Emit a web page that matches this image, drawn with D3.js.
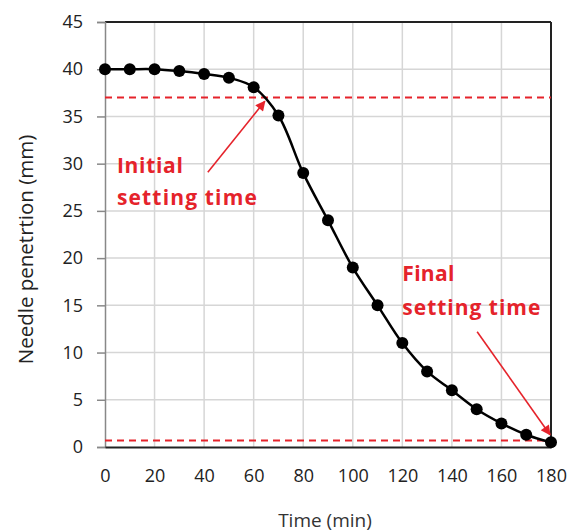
<!DOCTYPE html>
<html>
<head>
<meta charset="utf-8">
<script src="https://cdn.jsdelivr.net/npm/d3@7"></script>
<style>
  body { margin: 0; background: #fff; }
</style>
</head>
<body>
<div id="chart"></div>
<script>
// Time (min) and needle penetration (mm)
var times = [0, 10, 20, 30, 40, 50, 60, 70, 80, 90, 100, 110, 120, 130, 140, 150, 160, 170, 180];
var penetration = [40, 40, 40, 39.8, 39.5, 39.1, 38.1, 35.1, 29, 24, 19, 15, 11, 8, 6, 4, 2.5, 1.3, 0.5];

// Tick values
var xTicks = [0, 20, 40, 60, 80, 100, 120, 140, 160, 180];
var yTicks = [0, 5, 10, 15, 20, 25, 30, 35, 40, 45];

// Reference levels (initial / final setting)
var refLevels = [37, 0.7];

// Annotations: text lines (with their widths) and arrow ends in data units
var notes = [
    {lines: ["Initial", "setting time"], widths: [66, 140], tx: 4.8, ty: 29.0, gap: 32, from: [41.5, 29.1], to: [64.5, 36.6]},
    {lines: ["Final", "setting time"], widths: [52, 138], tx: 120, ty: 17.6, gap: 34, from: [150.2, 12.2], to: [179.6, 1.3]}
];

var width = 576, height = 532;
var margin = {top: 22, right: 25, bottom: 85, left: 105};
var w = width - margin.left - margin.right;
var h = height - margin.top - margin.bottom;

var red = "#e5232b";

var svg = d3.select("#chart")
    .append("svg")
    .attr("width", width)
    .attr("height", height)
    .style("font-family", "'Open Sans', sans-serif");

var defs = svg.append("defs");
defs.append("marker")
    .attr("id", "arrow")
    .attr("viewBox", "0 0 10 10")
    .attr("refX", 9)
    .attr("refY", 5)
    .attr("markerWidth", 12)
    .attr("markerHeight", 10)
    .attr("markerUnits", "userSpaceOnUse")
    .attr("orient", "auto")
    .append("path")
    .attr("d", "M0,0 L10,5 L0,10 z")
    .attr("fill", red);

var g = svg.append("g")
    .attr("transform", "translate(" + margin.left + "," + margin.top + ")");

var x = d3.scaleLinear().domain([0, 180]).range([0, w]);
var y = d3.scaleLinear().domain([0, 45]).range([h, 0]);

// Grid
g.append("g")
    .selectAll("line")
    .data(xTicks.slice(1, -1))
    .enter().append("line")
    .attr("x1", function(d) { return x(d); })
    .attr("x2", function(d) { return x(d); })
    .attr("y1", 0)
    .attr("y2", h)
    .attr("stroke", "#d6d6d6")
    .attr("stroke-width", 1.5);

g.append("g")
    .selectAll("line")
    .data(yTicks.slice(1, -1))
    .enter().append("line")
    .attr("x1", 0)
    .attr("x2", w)
    .attr("y1", function(d) { return y(d); })
    .attr("y2", function(d) { return y(d); })
    .attr("stroke", "#d6d6d6")
    .attr("stroke-width", 1.5);

// Frame: top and right dark
g.append("line").attr("x1", 0).attr("x2", w).attr("y1", 0).attr("y2", 0)
    .attr("stroke", "#222").attr("stroke-width", 2);
g.append("line").attr("x1", w).attr("x2", w).attr("y1", 0).attr("y2", h)
    .attr("stroke", "#222").attr("stroke-width", 2);

// Y axis
var yAxis = g.append("g")
    .call(d3.axisLeft(y).tickValues(yTicks).tickSize(8).tickPadding(14));
yAxis.select(".domain").attr("stroke", "#888").attr("stroke-width", 1.5);
yAxis.selectAll(".tick line").attr("stroke", "#888").attr("stroke-width", 1.5);
yAxis.selectAll("text")
    .attr("font-size", "18px")
    .attr("font-family", "'Open Sans', sans-serif")
    .attr("fill", "#222");

// X axis
var xAxis = g.append("g")
    .attr("transform", "translate(0," + h + ")")
    .call(d3.axisBottom(x).tickValues(xTicks).tickSize(0).tickPadding(22));
xAxis.select(".domain").attr("stroke", "#222").attr("stroke-width", 2);
xAxis.selectAll("text")
    .attr("font-size", "18px")
    .attr("font-family", "'Open Sans', sans-serif")
    .attr("fill", "#222");

// Axis titles
svg.append("text")
    .attr("x", margin.left + x(90) - 3)
    .attr("y", 527)
    .attr("text-anchor", "middle")
    .attr("font-size", "19px")
    .attr("fill", "#333")
    .text("Time (min)");

svg.append("text")
    .attr("transform", "translate(33," + (margin.top + y(22.5) + 15) + ") rotate(-90)")
    .attr("text-anchor", "middle")
    .attr("font-size", "20.5px")
    .attr("fill", "#222")
    .text("Needle penetrtion (mm)");

// Reference dashed lines
g.append("g")
    .selectAll("line")
    .data(refLevels)
    .enter().append("line")
    .attr("x1", 0)
    .attr("x2", w)
    .attr("y1", function(d) { return y(d); })
    .attr("y2", function(d) { return y(d); })
    .attr("stroke", red)
    .attr("stroke-width", 2)
    .attr("stroke-dasharray", "7,5");

// Data line
var points = times.map(function(t, i) { return [t, penetration[i]]; });

var line = d3.line()
    .x(function(d) { return x(d[0]); })
    .y(function(d) { return y(d[1]); })
    .curve(d3.curveCatmullRom.alpha(0.5));

g.append("path")
    .datum(points)
    .attr("d", line)
    .attr("fill", "none")
    .attr("stroke", "#000")
    .attr("stroke-width", 2.5);

g.append("g")
    .selectAll("circle")
    .data(points)
    .enter().append("circle")
    .attr("cx", function(d) { return x(d[0]); })
    .attr("cy", function(d) { return y(d[1]); })
    .attr("r", 6)
    .attr("fill", "#000");

// Annotations
notes.forEach(function(n) {
    g.append("line")
        .attr("x1", x(n.from[0]))
        .attr("y1", y(n.from[1]))
        .attr("x2", x(n.to[0]))
        .attr("y2", y(n.to[1]))
        .attr("stroke", red)
        .attr("stroke-width", 1.6)
        .attr("marker-end", "url(#arrow)");

    n.lines.forEach(function(s, i) {
        g.append("text")
            .attr("x", x(n.tx))
            .attr("y", y(n.ty) + i * n.gap)
            .attr("font-size", "21px")
            .attr("font-weight", "bold")
            .attr("fill", red)
            .attr("textLength", n.widths[i])
            .attr("lengthAdjust", "spacing")
            .text(s);
    });
});
</script>
</body>
</html>
